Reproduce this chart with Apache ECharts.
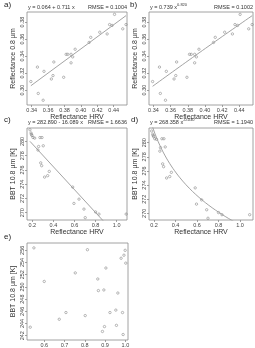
<!DOCTYPE html>
<html>
<head>
<meta charset="utf-8">
<script src="https://cdn.jsdelivr.net/npm/echarts@6/dist/echarts.min.js"></script>
<style>
  html, body { margin: 0; padding: 0; background: #fff; }
  #chart { width: 255px; height: 348px; }
</style>
</head>
<body>
<div id="chart"></div>
<script>
// panels a/b: reflectance HRV vs reflectance 0.8 um
const hrvAB = [0.339, 0.347, 0.348, 0.354, 0.355, 0.364, 0.366, 0.367, 0.379, 0.382, 0.384, 0.388,
  0.388, 0.390, 0.393, 0.410, 0.412, 0.423, 0.432, 0.435, 0.438, 0.441, 0.451, 0.455];
const ref08 = [0.310, 0.327, 0.296, 0.288, 0.322, 0.313, 0.317, 0.333, 0.315, 0.342, 0.342, 0.332,
  0.342, 0.339, 0.348, 0.356, 0.362, 0.368, 0.366, 0.377, 0.376, 0.389, 0.372, 0.377];

// panels c/d: reflectance HRV vs BBT 10.8 um
const hrvCD = [0.178, 0.188, 0.192, 0.197, 0.207, 0.223, 0.273, 0.292, 0.260, 0.254, 0.304, 0.280,
  0.289, 0.317, 0.346, 0.361, 0.583, 0.595, 0.643, 0.690, 0.702, 0.800, 0.832, 1.090];
const bbtCD = [281.65, 281.2, 281.0, 280.85, 280.56, 280.48, 280.56, 280.56, 279.3, 278.8, 279.4, 277.0,
  276.6, 275.0, 275.2, 275.8, 273.6, 271.3, 271.9, 270.5, 269.3, 270.1, 269.8, 269.8];

// panel e
const hrvE = [0.531, 0.549, 0.600, 0.674, 0.707, 0.753, 0.802, 0.813, 0.864, 0.867, 0.887, 0.894,
  0.897, 0.904, 0.924, 0.953, 0.956, 0.963, 0.979, 0.986, 0.989, 0.993, 0.999, 1.002];
const bbtE = [243.4, 256.4, 250.9, 244.7, 245.8, 252.3, 245.3, 256.1, 251.3, 249.4, 242.7, 249.5,
  243.5, 253.1, 245.8, 246.2, 243.7, 249.0, 254.7, 245.8, 242.2, 255.2, 256.0, 253.9];

// fitted models as printed on the panels
const linAB = [0.064, 0.711];
const powAB = [0.739, 0.820];
const linCD = [282.890, -16.089];
const powCD = [268.358, -0.030];

// tick labels
const ticksRefX = [0.34, 0.36, 0.38, 0.40, 0.42, 0.44];
const ticksRefY = [0.30, 0.32, 0.34, 0.36, 0.38];
const ticksCDX = [0.2, 0.4, 0.6, 0.8, 1.0];
const ticksCDY = [270, 272, 274, 276, 278, 280];
const ticksEX = [0.6, 0.7, 0.8, 0.9, 1.0];
const ticksEY = [242, 244, 246, 248, 250, 252, 254, 256];

const FONT = 'Liberation Sans';
const FRAME = '#8a8a8a';

const zip = (xs, ys) => xs.map((x, i) => [x, ys[i]]);
const span = (xs, n) => {
  const lo = Math.min(...xs), hi = Math.max(...xs);
  const out = [];
  for (let i = 0; i <= n; i++) out.push(lo + (hi - lo) * i / n);
  return out;
};
const linFit = (c, xs) => span(xs, 1).map((x) => [x, c[0] + c[1] * x]);
const powFit = (c, xs) => span(xs, 60).map((x) => [x, c[0] * Math.pow(x, c[1])]);

const grids = [
  { left: 27, top: 12, width: 100, height: 93 },
  { left: 149, top: 12, width: 104, height: 93 },
  { left: 27, top: 128, width: 100, height: 92 },
  { left: 149, top: 128, width: 104, height: 92 },
  { left: 27, top: 243, width: 101, height: 97 },
].map((g) => ({
  ...g, show: true, borderColor: FRAME, borderWidth: 0.8,
  backgroundColor: 'transparent', outerBoundsMode: 'none', containLabel: false,
}));

const axis = (idx, min, max, ticks, digits, name, gap) => ({
  gridIndex: idx,
  type: 'value',
  min,
  max,
  name,
  nameLocation: 'middle',
  nameGap: gap,
  nameTextStyle: { fontFamily: FONT, fontSize: 7, color: '#333' },
  axisLine: { show: false },
  splitLine: { show: false },
  axisTick: { show: true, length: 2, customValues: ticks, lineStyle: { color: FRAME, width: 0.8 } },
  axisLabel: {
    customValues: ticks,
    fontFamily: FONT,
    fontSize: 5.5,
    color: '#444',
    margin: 2,
    formatter: (v) => v.toFixed(digits),
  },
});

const xAxes = [
  axis(0, 0.3343, 0.4562, ticksRefX, 2, 'Reflectance HRV', 8),
  axis(1, 0.3348, 0.4560, ticksRefX, 2, 'Reflectance HRV', 8),
  axis(2, 0.150, 1.098, ticksCDX, 1, 'Reflectance HRV', 8),
  axis(3, 0.153, 1.121, ticksCDX, 1, 'Reflectance HRV', 8),
  axis(4, 0.515, 1.013, ticksEX, 1, 'Reflectance HRV', 8),
];
const yAxes = [
  axis(0, 0.2824, 0.3918, ticksRefY, 2, 'Reflectance 0.8 µm', 10),
  axis(1, 0.2824, 0.3918, ticksRefY, 2, 'Reflectance 0.8 µm', 10),
  axis(2, 268.97, 281.9, ticksCDY, 0, 'BBT 10.8 µm [K]', 10),
  axis(3, 269.05, 282.08, ticksCDY, 0, 'BBT 10.8 µm [K]', 10),
  axis(4, 241.3, 257.2, ticksEY, 0, 'BBT 10.8 µm [K]', 10),
];
yAxes.forEach((a) => { a.axisLabel.rotate = 90; });

const pts = (i, data) => ({
  type: 'scatter',
  xAxisIndex: i,
  yAxisIndex: i,
  data,
  symbol: 'circle',
  symbolSize: 2.4,
  itemStyle: { color: 'transparent', borderColor: '#6e6e6e', borderWidth: 0.6 },
  silent: true,
});
const fit = (i, data) => ({
  type: 'line',
  xAxisIndex: i,
  yAxisIndex: i,
  data,
  showSymbol: false,
  clip: true,
  lineStyle: { color: '#999', width: 0.9 },
  silent: true,
});

const label = (text, left, top, size = 8) => ({
  type: 'text', left, top,
  style: { text, fontFamily: FONT, fontSize: size, fill: '#222' },
});
const note = (text, x, y, align = 'left', rich) => ({
  type: 'text', x, y,
  style: {
    text, fontFamily: FONT, fontSize: 5.5, fill: '#333',
    align, verticalAlign: 'middle', rich,
  },
});
const sup = { s: { fontSize: 4, verticalAlign: 'top', padding: [0, 0, 4, 0], fontFamily: FONT, fill: '#333' } };

const chart = echarts.init(document.getElementById('chart'), null, { renderer: 'canvas' });
chart.setOption({
  animation: false,
  backgroundColor: '#fff',
  grid: grids,
  xAxis: xAxes,
  yAxis: yAxes,
  series: [
    pts(0, zip(hrvAB, ref08)), fit(0, linFit(linAB, hrvAB)),
    pts(1, zip(hrvAB, ref08)), fit(1, powFit(powAB, hrvAB)),
    pts(2, zip(hrvCD, bbtCD)), fit(2, linFit(linCD, hrvCD)),
    pts(3, zip(hrvCD, bbtCD)), fit(3, powFit(powCD, hrvCD)),
    pts(4, zip(hrvE, bbtE)),
  ],
  graphic: [
    label('a)', 4, 1), label('b)', 130, 1), label('c)', 4, 116), label('d)', 131, 116), label('e)', 4, 233),
    note('y = 0.064 + 0.711 x', 28, 7), note('RMSE = 0.1004', 127, 7, 'right'),
    note('y = 0.739 x{s|0.820}', 150, 7, 'left', sup), note('RMSE = 0.1002', 253, 7, 'right'),
    note('y = 282.890 - 16.089 x', 28, 122), note('RMSE = 1.6636', 127, 122, 'right'),
    note('y = 268.358 x{s|-0.030}', 150, 122, 'left', sup), note('RMSE = 1.1940', 253, 122, 'right'),
  ],
});
</script>
</body>
</html>
